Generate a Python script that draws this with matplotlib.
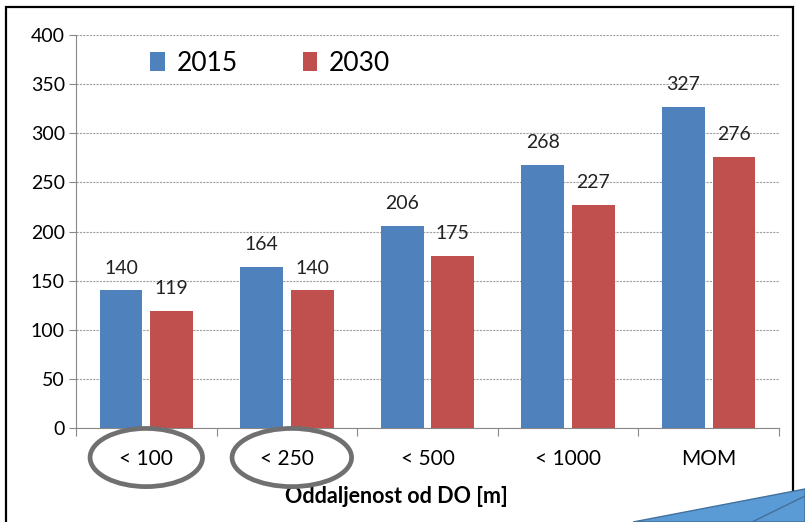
import numpy as np
import matplotlib.pyplot as plt
from matplotlib.patches import Ellipse, Rectangle, Polygon
from matplotlib.transforms import blended_transform_factory

plt.rcParams['font.family'] = ['Lato', 'DejaVu Sans']

categories = ['< 100', '< 250', '< 500', '< 1000', 'MOM']
values_2015 = [140, 164, 206, 268, 327]
values_2030 = [119, 140, 175, 227, 276]
series_labels = ['2015', '2030']
yticks = [0, 50, 100, 150, 200, 250, 300, 350, 400]

blue = '#4f81bd'
red = '#c0504d'

fig = plt.figure(figsize=(8.05, 5.22), dpi=100)
ax = fig.add_axes([0.0944, 0.180, 0.8733, 0.753])

x = np.arange(len(categories))
w = 0.305
off = 0.18
b1 = ax.bar(x - off, values_2015, w, color=blue, label=series_labels[0], zorder=3)
b2 = ax.bar(x + off, values_2030, w, color=red, label=series_labels[1], zorder=3)

for bars, vals in ((b1, values_2015), (b2, values_2030)):
    for bar, v in zip(bars, vals):
        ax.annotate(str(v), (bar.get_x() + bar.get_width() / 2, v),
                    xytext=(0, 16), textcoords='offset points',
                    ha='center', va='center', fontsize=14, color='#222222')

ax.set_xlim(-0.5, len(categories) - 0.5)
ax.set_ylim(0, 400)
ax.set_yticks(yticks)
ax.set_yticklabels([str(t) for t in yticks], fontsize=14)
ax.tick_params(axis='y', length=5, color='#888888', pad=3)

# category labels sit between boundary ticks
ax.set_xticks(np.arange(len(categories) + 1) - 0.5)
ax.set_xticklabels([''] * (len(categories) + 1))
ax.tick_params(axis='x', length=6, color='#888888')
for i, c in enumerate(categories):
    ax.text(i, -31, c, ha='center', va='center', fontsize=15)
ax.text(1.78, -69.5, 'Oddaljenost od DO [m]', ha='center', va='center',
        fontsize=15.5, fontweight='bold')

ax.yaxis.grid(True, linestyle=(0, (2, 1)), color='#a0a0a0', linewidth=0.8, zorder=0)
for s in ('top', 'right'):
    ax.spines[s].set_visible(False)
ax.spines['left'].set_color('#888888')
ax.spines['bottom'].set_color('#888888')

ax.legend(loc='upper left', bbox_to_anchor=(0.072, 1.02), ncol=2, frameon=False,
          fontsize=19, handlelength=0.55, handleheight=0.75, handletextpad=0.45,
          columnspacing=2.45)

# grey rings around the first two categories
tr = blended_transform_factory(ax.transData, ax.transAxes)
for cx, ew in ((0.0, 0.80), (1.035, 0.85)):
    ax.add_patch(Ellipse((cx, -0.075), ew, 0.148, transform=tr, fill=False,
                         edgecolor='#707070', linewidth=3.4, clip_on=False, zorder=5))

# frame and callout tip
fig.patches.append(Rectangle((6 / 805, -0.02), 787 / 805, 0.02 + 515 / 522,
                             transform=fig.transFigure, fill=False,
                             edgecolor='black', linewidth=1.6))
fig.patches.append(Polygon([(633 / 805, 0), (1, 33 / 522), (1, 0)],
                           closed=True, transform=fig.transFigure,
                           facecolor='#5b9bd5', edgecolor='#41719c', linewidth=1))
fig.lines.append(plt.Line2D([1, 752 / 805], [26 / 522, 0], transform=fig.transFigure,
                            color='#41719c', linewidth=1))

fig.savefig('out.png', dpi=100)
